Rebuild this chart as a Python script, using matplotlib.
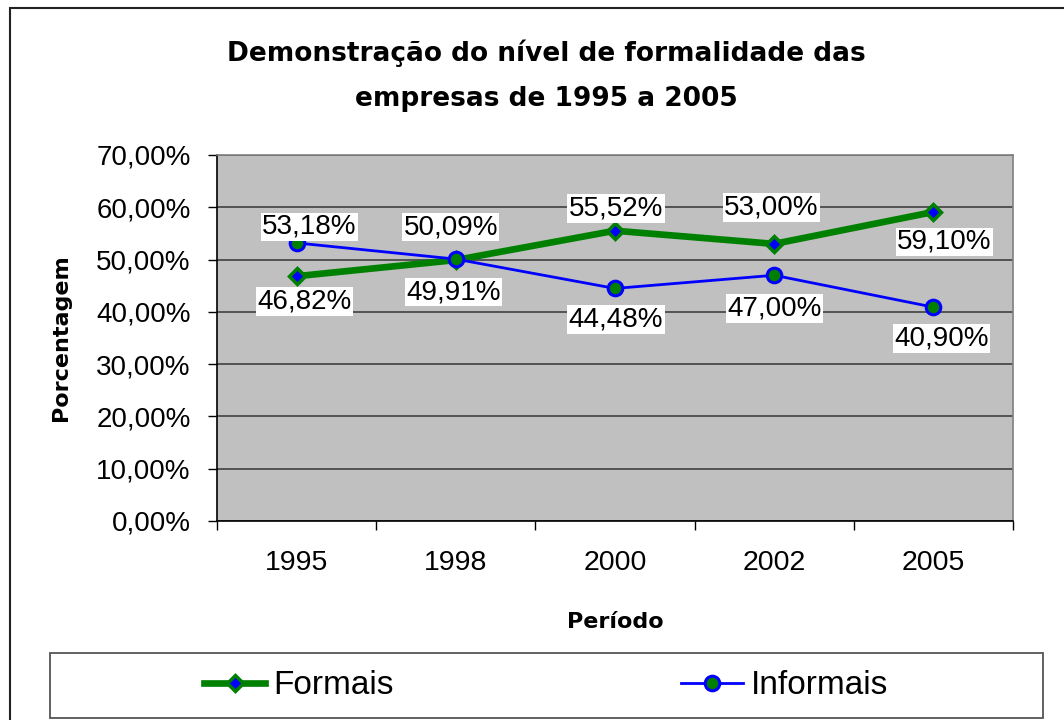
import matplotlib
matplotlib.use("Agg")
import matplotlib.pyplot as plt
from matplotlib.patches import Rectangle

plt.rcParams['font.family'] = ['Liberation Sans', 'DejaVu Sans']

years = ["1995", "1998", "2000", "2002", "2005"]
formais = [46.82, 49.91, 55.52, 53.00, 59.10]
informais = [53.18, 50.09, 44.48, 47.00, 40.90]
yticks = [0, 10, 20, 30, 40, 50, 60, 70]
title = "Demonstração do nível de formalidade das\nempresas de 1995 a 2005"

# label offsets in pixels (dx, dy; dy positive = up)
off_formais = [(8, -25), (-2, -32), (1, 22), (-3, 36), (11, -30)]
off_informais = [(13, 16), (-5, 32), (1, -31), (0, -33), (8, -31)]

W, H = 1064, 720
fig = plt.figure(figsize=(W / 100, H / 100), dpi=100)
fig.patch.set_facecolor('white')

ax = fig.add_axes([217 / W, 1 - 521 / H, (1013 - 217) / W, (521 - 155) / H])
ax.set_facecolor('#C0C0C0')

x = list(range(len(years)))
GREEN = '#008000'
BLUE = '#0000FF'

ax.plot(x, formais, color=GREEN, lw=4.8, marker='D', ms=8,
        mfc=BLUE, mec=GREEN, mew=2.5, zorder=3, label='Formais')
ax.plot(x, informais, color=BLUE, lw=2.0, marker='o', ms=10.5,
        mfc=GREEN, mec=BLUE, mew=2.2, zorder=4, label='Informais')

def fmt(v):
    return f"{v:.2f}".replace('.', ',') + '%'

for series, offs in ((formais, off_formais), (informais, off_informais)):
    for xi, v, (dx, dy) in zip(x, series, offs):
        ax.annotate(fmt(v), (xi, v), xytext=(dx * 0.72, dy * 0.72),
                    textcoords='offset points', ha='center', va='center',
                    fontsize=20, zorder=6,
                    bbox=dict(boxstyle='square,pad=0.05', fc='white', ec='none'))

ax.set_xlim(-0.5, len(years) - 0.5)
ax.set_ylim(0, 70)
ax.set_yticks(yticks)
ax.set_yticklabels([fmt(t) for t in yticks], fontsize=20)
ax.yaxis.grid(True, color='#4a4a4a', lw=1.3)
ax.set_axisbelow(True)

ax.set_xticks([i - 0.5 for i in range(len(years) + 1)])
ax.set_xticklabels([])
ax.set_xticks(x, minor=True)
ax.set_xticklabels(years, minor=True, fontsize=20.5)
ax.tick_params(axis='x', which='major', direction='out', length=6.5, width=1, color='black')
ax.tick_params(axis='x', which='minor', length=0, pad=21)
ax.tick_params(axis='y', direction='out', length=6.5, width=1, pad=12.5)

for s in ['left', 'bottom']:
    ax.spines[s].set_color('black')
    ax.spines[s].set_linewidth(1.2)
for s in ['top', 'right']:
    ax.spines[s].set_color('#808080')
    ax.spines[s].set_linewidth(1.2)

bold_font = ['DejaVu Sans']
ax.set_ylabel('Porcentagem', fontsize=16, fontweight='bold', family=bold_font)
ax.yaxis.set_label_coords(-(217 - 71) / (1013 - 217), 0.5)
ax.set_xlabel('Período', fontsize=16, fontweight='bold', family=bold_font)
ax.xaxis.set_label_coords(0.5, -(612 - 521) / (521 - 155))

fig.text(546 / W, 1 - 76 / H, title, ha='center', va='center', family=bold_font,
         fontsize=19, fontweight='bold', linespacing=1.95)

# outer chart frame
fig.patches.append(Rectangle((10 / W, -0.05), 1.2, 1 - 8 / H + 0.05,
                             transform=fig.transFigure, fill=False,
                             ec='#222222', lw=1.5, zorder=0))
# legend frame
fig.patches.append(Rectangle((50 / W, 1 - 718 / H), (1043 - 50) / W, (718 - 653) / H,
                             transform=fig.transFigure, fill=False,
                             ec='#555555', lw=1.3, zorder=1))

handles, labels = ax.get_legend_handles_labels()
fig.legend(handles, labels, loc='center', bbox_to_anchor=(546 / W, 1 - 686 / H),
           ncol=2, frameon=False, fontsize=24, handlelength=1.85,
           handletextpad=0.25, columnspacing=8.6)

fig.savefig('out.png', dpi=100)
